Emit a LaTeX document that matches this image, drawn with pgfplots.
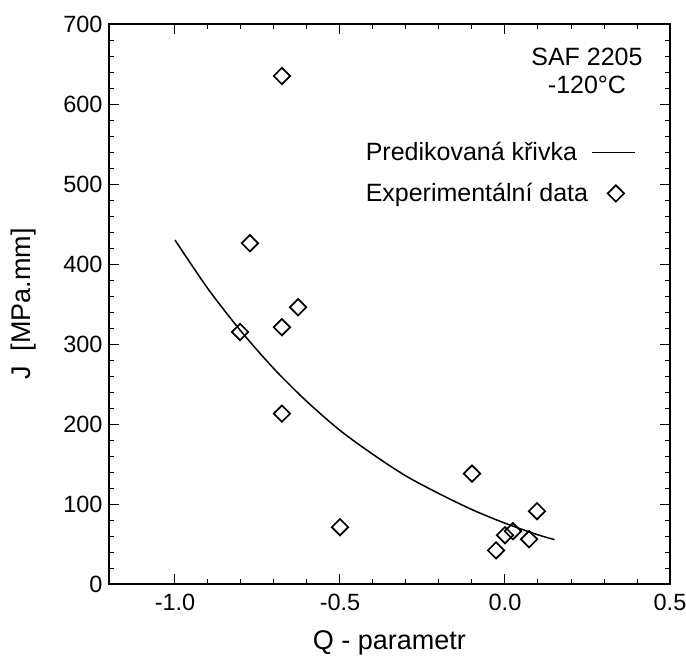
\documentclass[border=0pt]{standalone}
\usepackage{fontspec}
\setmainfont{Liberation Sans}
\usepackage{pgfplots}
\pgfplotsset{compat=1.18}
\begin{document}
\begin{tikzpicture}[x=1pt,y=1pt]
\path[use as bounding box] (-109,-73) rectangle (577,584);
\begin{axis}[
  at={(0,0)}, anchor=south west,
  scale only axis, width=561pt, height=560pt,
  xmin=-1.2, xmax=0.5, ymin=0, ymax=700,
  xtick={-1,-0.5,0,0.5}, xticklabels={-1.0,-0.5,0.0,0.5},
  ytick={0,100,...,700},
  minor x tick num=4, minor y tick num=4,
  tick align=inside, xtick pos=both, ytick pos=both,
  major tick length=10pt, minor tick length=5pt,
  axis line style={line width=1.3pt},
  every tick/.style={black, line width=1pt},
  /pgf/number format/assume math mode=true,
  tick label style={font=\fontsize{23.5}{27}\selectfont},
  yticklabel style={xshift=-3pt},
  xticklabel style={yshift=-7pt},
  xlabel={Q - parametr}, ylabel={J\ \ [MPa.mm]},
  every axis x label/.style={at={(axis description cs:0.5,-0.105)}, anchor=center,
    font=\fontsize{27}{32}\selectfont},
  every axis y label/.style={at={(axis description cs:-0.152,0.5)}, rotate=90, anchor=center,
    font=\fontsize{27}{32}\selectfont},
  legend plot pos=right,
  legend cell align=left,
  legend style={draw=none, fill=none, at={(axis description cs:0.452,0.734)}, anchor=west,
    font=\fontsize{25}{29}\selectfont, row sep=15pt, inner sep=0pt,
    nodes={inner sep=3pt}},
]
\addplot[black, line width=1.5pt, smooth, no marks,
  legend image code/.code={\draw[black, line width=1.5pt] (0pt,0pt) -- (43pt,0pt);}]
  coordinates {
  (-1.0,430) (-0.9,369) (-0.8,316) (-0.7,269) (-0.6,228) (-0.5,192)
  (-0.4,162) (-0.3,135) (-0.2,113) (-0.1,93) (0.0,76) (0.1,61.5) (0.15,55.5)
  };
\addlegendentry{Predikovaná křivka}
\addplot[black, only marks, mark=square, mark size=5.8pt,
  mark options={rotate=45, line width=1.7pt, fill=none},
  legend image code/.code={\draw[black, line width=1.7pt, rotate around={45:(24pt,0pt)}] (18.2pt,-5.8pt) rectangle (29.8pt,5.8pt);}]
  coordinates {
  (-0.676,635) (-0.773,426) (-0.803,315) (-0.676,321) (-0.627,346)
  (-0.676,213) (-0.5,71) (-0.1,138) (0.097,91) (-0.027,42)
  (0.0,61) (0.024,66) (0.073,56)
  };
\addlegendentry{Experimentální data}
\node[align=center, anchor=north, inner sep=0pt, font=\fontsize{25}{28}\selectfont]
  at (axis description cs:0.852,0.958) {SAF 2205\\-120°C};
\end{axis}
\end{tikzpicture}
\end{document}
